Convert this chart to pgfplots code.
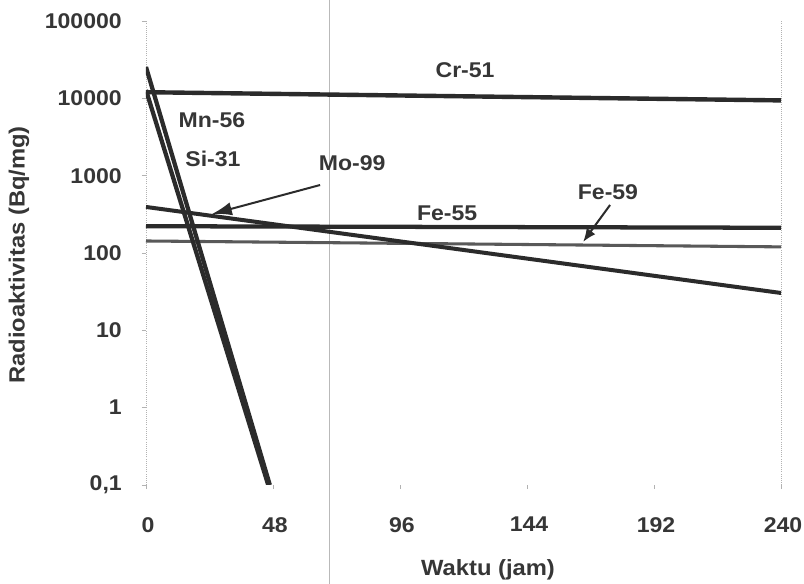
\documentclass[border=0pt]{standalone}
\usepackage{fontspec}
\setmainfont[FakeStretch=1.08]{Liberation Sans}
\usepackage{pgfplots}
\pgfplotsset{compat=1.18}
\usetikzlibrary{arrows.meta}
\definecolor{ink}{HTML}{363636}
\definecolor{ln}{HTML}{2B2B2B}
\newcommand{\lab}{\fontsize{16}{19}\selectfont\bfseries}
\begin{document}
\begin{tikzpicture}
\useasboundingbox (-109.5pt,-74.25pt) rectangle (493.5pt,363.75pt);
\fill[white] (-109.5pt,-74.25pt) rectangle (493.5pt,363.75pt);
\draw[gray!55, line width=0.6pt] (137.25pt,-74.25pt) -- (137.25pt,363.75pt);
\begin{axis}[
  at={(0,0)}, anchor=south west, scale only axis,
  width=476.25pt, height=348pt,
  ymode=log, xmin=0, xmax=240, ymin=0.1, ymax=100000,
  separate axis lines,
  x axis line style={draw=none},
  y axis line style={draw=gray!60, densely dotted, line width=0.6pt},
  xtick={0,48,96,144,192,240}, xticklabels={0,48,96,144,192,240},
  ytick={0.1,1,10,100,1000,10000,100000},
  yticklabels={{0,1},1,10,100,1000,10000,100000},
  yminorticks=false,
  xtick pos=left, ytick pos=left,
  tick align=outside, major tick length=3pt,
  tick style={gray!60, line width=0.5pt},
  every tick label/.append style={font=\lab, text=ink, inner sep=0pt},
  yticklabel style={anchor=east, xshift=-15pt},
  xticklabel style={anchor=north, yshift=-21pt, xshift=1.5pt},
  xlabel={Waktu (jam)}, ylabel={Radioaktivitas (Bq/mg)},
  label style={font=\fontsize{16.5}{20}\selectfont\bfseries, text=ink},
  xlabel style={at={(axis description cs:0.5386,-0.1832)}, anchor=center},
  ylabel style={at={(axis description cs:-0.2,0.496)}, anchor=center},
]
% Cr-51
\addplot[ln, line width=3.3pt] coordinates {(0,12000) (240,9400)};
% Fe-55
\addplot[ln, line width=3.2pt] coordinates {(0,222) (240,212)};
% Fe-59
\addplot[black!65, line width=2.3pt] coordinates {(0,143) (240,120)};
% Mo-99
\addplot[ln, line width=3pt] coordinates {(0,394) (240,30.4)};
% Mn-56
\addplot[ln, line width=3.2pt] coordinates {(0,25400) (46.8,0.1)};
% Si-31
\addplot[ln, line width=3.2pt] coordinates {(0,12800) (46.2,0.1)};

\node[font=\lab, text=ink] at (axis cs:120.6,23300) {Cr-51};
\node[font=\lab, text=ink] at (axis cs:24.9,5250) {Mn-56};
\node[font=\lab, text=ink] at (axis cs:25.3,1645) {Si-31};
\node[font=\lab, text=ink] at (axis cs:77.9,1458) {Mo-99};
\node[font=\lab, text=ink] at (axis cs:113.8,329) {Fe-55};
\node[font=\lab, text=ink] at (axis cs:174.6,615) {Fe-59};

\draw[ln, line width=1.5pt, -{Latex[length=15pt,width=10pt]}] (axis cs:65.8,757) -- (axis cs:24.9,319);
\draw[ln, line width=1.5pt, -{Latex[length=10pt,width=8pt]}] (axis cs:175.4,418) -- (axis cs:165.2,139);
\end{axis}
\end{tikzpicture}
\end{document}
